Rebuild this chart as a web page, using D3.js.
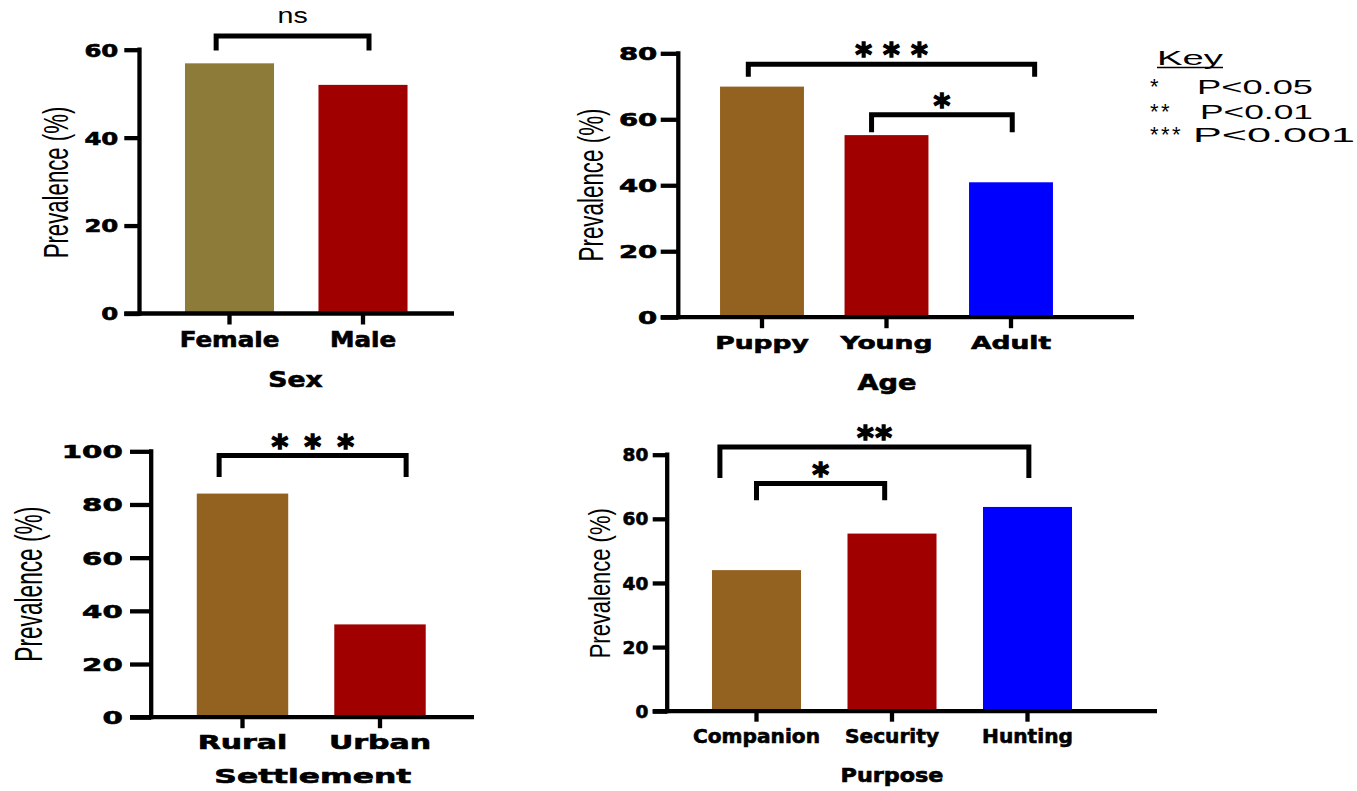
<!DOCTYPE html>
<html><head><meta charset="utf-8">
<script src="https://cdn.jsdelivr.net/npm/d3@7"></script>
<style>body{margin:0;background:#fff;} svg{display:block;}</style>
</head><body>
<svg id="chart" width="1357" height="791"></svg>
<script>
// ---------------- data ----------------
const sexCategories = ["Female", "Male"];
const sexValues = [56.9, 52.0];
const sexTicks = [0, 20, 40, 60];
const sexComparisons = [
  {from: 0, to: 1, label: "ns", level: 63.1, legEnd: 59.8, fromShift: -0.10, toShift: 0.045}
];

const ageCategories = ["Puppy", "Young", "Adult"];
const ageValues = [69.9, 55.2, 40.9];
const ageTicks = [0, 20, 40, 60, 80];
const ageComparisons = [
  {from: 0, to: 2, label: "* * *", level: 76.7, legEnd: 72.9, fromShift: -0.11, toShift: 0.19},
  {from: 1, to: 2, label: "*", level: 61.4, legEnd: 56.1, fromShift: -0.12, toShift: 0.01}
];

const settlementCategories = ["Rural", "Urban"];
const settlementValues = [84.1, 34.9];
const settlementTicks = [0, 20, 40, 60, 80, 100];
const settlementComparisons = [
  {from: 0, to: 1, label: "* * *", level: 98.4, legEnd: 90.3, fromShift: -0.17, toShift: 0.19}
];

const purposeCategories = ["Companion", "Security", "Hunting"];
const purposeValues = [44.0, 55.4, 63.7];
const purposeTicks = [0, 20, 40, 60, 80];
const purposeComparisons = [
  {from: 0, to: 2, label: "**", level: 82.4, legEnd: 72.7, fromShift: -0.27, toShift: 0.01},
  {from: 0, to: 1, label: "*", level: 71.0, legEnd: 65.8, fromShift: 0.0, toShift: -0.054}
];

const yAxisLabel = "Prevalence (%)";
const keyTitle = "Key";
const keyStars = ["*", "**", "***"];
const keyTexts = ["P<0.05", "P<0.01", "P<0.001"];

// ---------------- layout / style ----------------
const OLIVE = "#8C7B39", BROWN = "#936120", RED = "#A00000", BLUE = "#0000FF";
const panels = [
  {title: "Sex", cats: sexCategories, vals: sexValues, ticks: sexTicks, comps: sexComparisons,
   colors: [OLIVE, RED],
   axisX: 139.5, y0: 313.5, yTop: 49.7, band: [162.75, 429.75], pad: 0.333, tickLen: 15.2, xEnd: 454,
   btick: 11, tickGap: 6, tickFont: 17.8, tickSx: 1.37,
   catBase: 347, catFont: 20.5, catSx: 1.2, titleX: 295.5, titleBase: 387, titleFont: 20.5, titleSx: 1.3,
   yLabX: 68.3, yLabY: 182.5, yLabFont: 35, yLabLen: 151.7, starLs: 1.0},
  {title: "Age", cats: ageCategories, vals: ageValues, ticks: ageTicks, comps: ageComparisons,
   colors: [BROWN, RED, BLUE],
   axisX: 678.3, y0: 317.2, yTop: 53.3, band: [699.75, 1073.25], pad: 0.326, tickLen: 17.6, xEnd: 1134,
   btick: 11, tickGap: 3.4, tickFont: 17.8, tickSx: 1.55,
   catBase: 349.3, catFont: 18.3, catSx: 1.45, titleX: 887, titleBase: 390, titleFont: 20.5, titleSx: 1.33,
   yLabX: 603.3, yLabY: 185, yLabFont: 35, yLabLen: 153, starLs: 0},
  {title: "Settlement", cats: settlementCategories, vals: settlementValues, ticks: settlementTicks, comps: settlementComparisons,
   colors: [BROWN, RED],
   axisX: 151.2, y0: 717.2, yTop: 451.3, band: [173.75, 448.75], pad: 0.335, tickLen: 21.2, xEnd: 474,
   btick: 11, tickGap: 7.3, tickFont: 17.8, tickSx: 1.64,
   catBase: 749.3, catFont: 19.6, catSx: 1.53, titleX: 312.8, titleBase: 782.7, titleFont: 19.6, titleSx: 1.6,
   yLabX: 41.7, yLabY: 584.2, yLabFont: 39, yLabLen: 155, starLs: 2.5},
  {title: "Purpose", cats: purposeCategories, vals: purposeValues, ticks: purposeTicks, comps: purposeComparisons,
   colors: [BROWN, RED, BLUE],
   axisX: 667.2, y0: 711.2, yTop: 454.7, band: [688.75, 1095.25], pad: 0.343, tickLen: 14.5, xEnd: 1157,
   btick: 10.5, tickGap: 4.4, tickFont: 17, tickSx: 1.09,
   catBase: 743.3, catFont: 19.2, catSx: 1.05, titleX: 892, titleBase: 781.7, titleFont: 18.6, titleSx: 1.2,
   yLabX: 610, yLabY: 583.3, yLabFont: 30, yLabLen: 150, starLs: 1.5}
];

const BOLD = "'DejaVu Sans', sans-serif";
const REG = "'Liberation Sans', Arial, sans-serif";
const AXW = 4.3;
const HEAVY = 0.6; // extra stroke to mimic the heavy face

const svg = d3.select("#chart");

panels.forEach(p => {
  const g = svg.append("g");
  const y = d3.scaleLinear().domain([0, d3.max(p.ticks)]).range([p.y0, p.yTop]);
  const x = d3.scaleBand().domain(p.cats).range(p.band).paddingInner(p.pad).paddingOuter(p.pad / 2);
  const step = x.step();

  // bars
  g.selectAll("rect.bar").data(p.cats).join("rect")
    .attr("class", "bar")
    .attr("x", d => x(d))
    .attr("width", x.bandwidth())
    .attr("y", (d, i) => y(p.vals[i]))
    .attr("height", (d, i) => p.y0 - y(p.vals[i]))
    .attr("fill", (d, i) => p.colors[i]);

  // y axis ticks & labels
  const ya = g.append("g").attr("transform", `translate(${p.axisX},0)`)
    .call(d3.axisLeft(y).tickValues(p.ticks).tickSize(p.tickLen).tickSizeOuter(0).tickFormat(d3.format("d")));
  ya.select(".domain").remove();
  ya.selectAll(".tick line").attr("stroke", "#000").attr("stroke-width", AXW);
  ya.selectAll(".tick text")
    .attr("font-family", BOLD).attr("font-weight", "bold").attr("font-size", p.tickFont)
    .attr("fill", "#000").attr("stroke", "#000").attr("stroke-width", HEAVY)
    .attr("dy", "0.36em")
    .attr("x", -(p.tickLen + p.tickGap) / p.tickSx)
    .attr("transform", `scale(${p.tickSx},1)`);

  // x axis ticks & labels
  const xa = g.append("g").attr("transform", `translate(0,${p.y0})`)
    .call(d3.axisBottom(x).tickSize(p.btick).tickSizeOuter(0));
  xa.select(".domain").remove();
  xa.selectAll(".tick line").attr("stroke", "#000").attr("stroke-width", AXW);
  xa.selectAll(".tick text")
    .attr("font-family", BOLD).attr("font-weight", "bold").attr("font-size", p.catFont)
    .attr("fill", "#000").attr("stroke", "#000").attr("stroke-width", HEAVY)
    .attr("dy", null)
    .attr("y", p.catBase - p.y0)
    .attr("transform", `scale(${p.catSx},1)`);

  // axis lines
  g.append("line").attr("x1", p.axisX - p.tickLen).attr("x2", p.xEnd)
    .attr("y1", p.y0).attr("y2", p.y0).attr("stroke", "#000").attr("stroke-width", AXW);
  g.append("line").attr("x1", p.axisX).attr("x2", p.axisX)
    .attr("y1", p.yTop - AXW / 2).attr("y2", p.y0 + AXW / 2).attr("stroke", "#000").attr("stroke-width", AXW);

  // axis title
  g.append("text")
    .attr("transform", `translate(${p.titleX},${p.titleBase}) scale(${p.titleSx},1)`)
    .attr("text-anchor", "middle")
    .attr("font-family", BOLD).attr("font-weight", "bold").attr("font-size", p.titleFont)
    .attr("stroke", "#000").attr("stroke-width", HEAVY)
    .text(p.title);

  // y label
  g.append("text")
    .attr("transform", `translate(${p.yLabX},${p.yLabY}) rotate(-90)`)
    .attr("text-anchor", "middle")
    .attr("font-family", REG).attr("font-size", p.yLabFont)
    .attr("textLength", p.yLabLen).attr("lengthAdjust", "spacingAndGlyphs")
    .text(yAxisLabel);

  // comparison brackets
  p.comps.forEach(c => {
    const x1 = x(p.cats[c.from]) + x.bandwidth() / 2 + c.fromShift * step;
    const x2 = x(p.cats[c.to]) + x.bandwidth() / 2 + c.toShift * step;
    const yl = y(c.level), ye = y(c.legEnd);
    g.append("path")
      .attr("d", `M${x1},${ye}L${x1},${yl}L${x2},${yl}L${x2},${ye}`)
      .attr("fill", "none").attr("stroke", "#000").attr("stroke-width", 5)
      .attr("stroke-linejoin", "miter");
    const cx = (x1 + x2) / 2;
    if (c.label === "ns") {
      g.append("text")
        .attr("transform", `translate(${cx},${yl - 13}) scale(1.3,1)`)
        .attr("text-anchor", "middle")
        .attr("font-family", REG).attr("font-size", 22)
        .text(c.label);
    } else {
      g.append("text")
        .attr("transform", `translate(${cx + p.starLs / 2},${yl + 1})`)
        .attr("text-anchor", "middle")
        .attr("font-family", BOLD).attr("font-weight", "bold").attr("font-size", 32)
        .attr("stroke", "#000").attr("stroke-width", 1.4)
        .attr("letter-spacing", p.starLs)
        .attr("xml:space", "preserve")
        .text(c.label);
    }
  });
});

// ---------------- key ----------------
const key = svg.append("g");
key.append("text").attr("x", 1157).attr("y", 65)
  .attr("font-family", REG).attr("font-size", 21)
  .attr("textLength", 66).attr("lengthAdjust", "spacingAndGlyphs")
  .text(keyTitle);
key.append("line").attr("x1", 1157).attr("x2", 1223).attr("y1", 67.5).attr("y2", 67.5)
  .attr("stroke", "#000").attr("stroke-width", 1.5);
const keyBase = [94.3, 119.3, 141.7];
const keyPX = [1197, 1200, 1193];
const keyPW = [116, 113, 162];
keyStars.forEach((s, i) => {
  key.append("text").attr("x", 1150).attr("y", keyBase[i])
    .attr("font-family", REG).attr("font-size", 22).attr("letter-spacing", 2.5)
    .text(s);
  key.append("text").attr("x", keyPX[i]).attr("y", keyBase[i])
    .attr("font-family", REG).attr("font-size", 21)
    .attr("textLength", keyPW[i]).attr("lengthAdjust", "spacingAndGlyphs")
    .text(keyTexts[i]);
});
</script>
</body></html>
